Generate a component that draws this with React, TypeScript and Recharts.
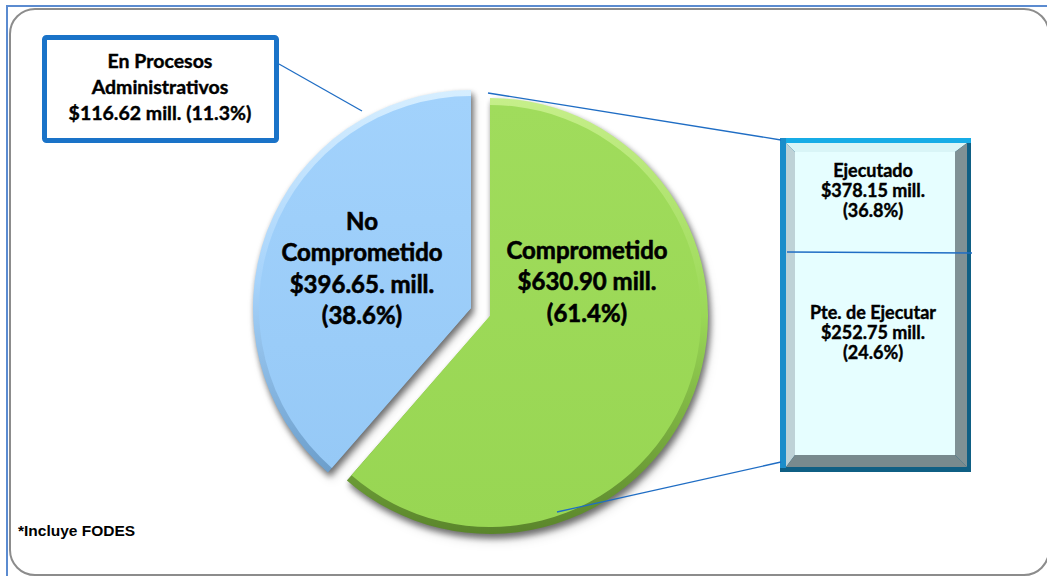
import React from 'react'
import { PieChart, Pie, Cell } from 'recharts'

// main split of the budget
const categories = ['No Comprometido', 'Comprometido']
const amounts = [396.65, 630.9]
const percents = [38.6, 61.4]
const titleLines = [['No', 'Comprometido'], ['Comprometido']]
const amountText = ['$396.65. mill.', '$630.90 mill.']

// breakdown callouts
const adminTitle = ['En Procesos', 'Administrativos']
const adminAmount = 116.62
const adminPercent = 11.3
const subCategories = ['Ejecutado', 'Pte. de Ejecutar']
const subAmounts = [378.15, 252.75]
const subPercents = [36.8, 24.6]

const pieData = categories.map((name, i) => ({ name, value: amounts[i] }))

const W = 1047
const H = 576
const R = 218
const BLUE_C = { x: 466, y: 303 }
const GREEN_C = { x: 485, y: 311 }
const LINE_COLOR = '#1F6DC4'
const FONT = 'Lato, "Open Sans", sans-serif'

// where each slice label block starts, relative to the slice centre
const LABEL_ANCHOR = [
  { dx: -109, dy: -88 },
  { dx: 97, dy: -67 }
]

const sliceLines = (i: number) => [
  ...titleLines[i],
  amountText[i],
  `(${percents[i].toFixed(1)}%)`
]

const heavy = { stroke: '#000', strokeWidth: 0.6, paintOrder: 'stroke' as const }

const renderLabel = (target: number) => (props: any) => {
  if (props.index !== target) return null
  const a = LABEL_ANCHOR[target]
  const x = props.cx + a.dx
  const y0 = props.cy + a.dy
  return (
    <text
      key={`lbl-${target}`}
      x={x}
      y={y0}
      textAnchor="middle"
      fontFamily={FONT}
      fontWeight={700}
      fontSize={24}
      fill="#000"
      {...heavy}
    >
      {sliceLines(target).map((t, j) => (
        <tspan key={j} x={x} y={y0 + j * 31.5} dominantBaseline="central">
          {t}
        </tspan>
      ))}
    </text>
  )
}

function Frame() {
  return (
    <svg width={W} height={H} style={{ position: 'absolute', left: 0, top: 0 }}>
      <defs>
        <linearGradient id="blueEdge" x1="0" y1="0" x2="0" y2="1">
          <stop offset="0%" stopColor="#D6EEFF" />
          <stop offset="50%" stopColor="#A6D3FB" />
          <stop offset="100%" stopColor="#6C9ECB" />
        </linearGradient>
        <linearGradient id="blueFace" x1="0" y1="0" x2="0" y2="1">
          <stop offset="0%" stopColor="#A2D2FC" />
          <stop offset="100%" stopColor="#96C9F6" />
        </linearGradient>
        <linearGradient id="greenEdge" x1="0" y1="0" x2="0" y2="1">
          <stop offset="0%" stopColor="#C6EF8A" />
          <stop offset="50%" stopColor="#9AD856" />
          <stop offset="100%" stopColor="#5A852B" />
        </linearGradient>
        <linearGradient id="greenFace" x1="0" y1="0" x2="0" y2="1">
          <stop offset="0%" stopColor="#A0DC5C" />
          <stop offset="100%" stopColor="#98D653" />
        </linearGradient>
      </defs>
      <rect x={0} y={0} width={W} height={H} fill="#fff" />
      <line x1={7} y1={6} x2={W} y2={6} stroke="#5B8BD0" strokeWidth={2} />
      <line x1={7} y1={5} x2={7} y2={H} stroke="#5B8BD0" strokeWidth={2} />
      <rect x={10} y={9} width={1039} height={566} rx={25} ry={25} fill="#fff" stroke="#8C8C8C" strokeWidth={2} />
      <text x={18} y={530} dominantBaseline="central" fontFamily='"Liberation Sans", Arial, sans-serif' fontWeight={700} fontSize={15.5} fill="#000">
        *Incluye FODES
      </text>
    </svg>
  )
}

function Callouts() {
  const boxX = 780
  const boxY = 138
  const boxW = 191
  const boxH = 334
  const x0 = 786, x1 = 967, y0 = 143, y1 = 467
  const fx0 = 795, fx1 = 955, fy0 = 152, fy1 = 455
  const cx = 873
  const subTexts = subCategories.map((c, i) => [
    c,
    `$${subAmounts[i].toFixed(2)} mill.`,
    `(${subPercents[i].toFixed(1)}%)`
  ])
  const subY = [170, 312]
  const adminLines = [...adminTitle, `$${adminAmount.toFixed(2)} mill. (${adminPercent.toFixed(1)}%)`]
  return (
    <svg width={W} height={H} style={{ position: 'absolute', left: 0, top: 0, pointerEvents: 'none' }}>
      {/* top-left box */}
      <rect x={44.5} y={37.5} width={232} height={103} rx={2} fill="#fff" stroke="#1A73C8" strokeWidth={5} />
      {adminLines.map((t, j) => (
        <text key={t} x={160} y={60 + j * 26} textAnchor="middle" dominantBaseline="central" fontFamily={FONT} fontWeight={700} fontSize={19.5} fill="#000" {...heavy} strokeWidth={0.4}>
          {t}
        </text>
      ))}
      <line x1={279} y1={64} x2={362} y2={111} stroke={LINE_COLOR} strokeWidth={1.3} />

      {/* right bevelled box */}
      <rect x={boxX} y={boxY} width={boxW} height={boxH} fill="#0F5F84" />
      <rect x={boxX} y={boxY} width={boxW} height={5} fill="#17ACE6" />
      <rect x={boxX} y={boxY} width={6} height={boxH - 4} fill="#1B8DCA" />
      <polygon points={`${x0},${y0} ${x1},${y0} ${fx1},${fy0} ${fx0},${fy0}`} fill="#D9F5F7" />
      <polygon points={`${x0},${y0} ${fx0},${fy0} ${fx0},${fy1} ${x0},${y1}`} fill="#BED2D7" />
      <polygon points={`${x1},${y0} ${x1},${y1} ${fx1},${fy1} ${fx1},${fy0}`} fill="#7F9195" />
      <polygon points={`${x0},${y1} ${x1},${y1} ${fx1},${fy1} ${fx0},${fy1}`} fill="#788A8E" />
      <rect x={fx0} y={fy0} width={fx1 - fx0} height={fy1 - fy0} fill="#E6FEFF" />
      {subTexts.map((lines, i) =>
        lines.map((t, j) => (
          <text key={t} x={cx} y={subY[i] + j * 20} textAnchor="middle" dominantBaseline="central" fontFamily={FONT} fontWeight={700} fontSize={18} fill="#000" {...heavy} strokeWidth={0.4}>
            {t}
          </text>
        ))
      )}
      <line x1={787} y1={252} x2={972} y2={253} stroke={LINE_COLOR} strokeWidth={1.5} />
      <line x1={488} y1={93} x2={781} y2={140} stroke={LINE_COLOR} strokeWidth={1.3} />
      <line x1={557} y1={512} x2={781} y2={462} stroke={LINE_COLOR} strokeWidth={1.3} />
    </svg>
  )
}

export default function App() {
  return (
    <div style={{ position: 'absolute', left: 0, top: 0, width: W, height: H, overflow: 'hidden', background: '#fff' }}>
      <style>{`.slice-shadow { filter: drop-shadow(2px 4px 3px rgba(0,0,0,0.35)); }`}</style>
      <Frame />
      <div style={{ position: 'absolute', left: 0, top: 0 }}>
        <PieChart width={W} height={H}>
          {/* blue slice: bevel rim + face */}
          <Pie
            data={pieData}
            dataKey="value"
            nameKey="name"
            cx={BLUE_C.x}
            cy={BLUE_C.y}
            outerRadius={R}
            startAngle={90}
            endAngle={450}
            stroke="none"
            className="slice-shadow"
            isAnimationActive={false}
          >
            <Cell fill="url(#blueEdge)" />
            <Cell fill="none" />
          </Pie>
          <Pie
            data={pieData}
            dataKey="value"
            nameKey="name"
            cx={BLUE_C.x}
            cy={BLUE_C.y}
            outerRadius={R - 6}
            startAngle={90}
            endAngle={450}
            stroke="none"
            labelLine={false}
            label={renderLabel(0)}
            isAnimationActive={false}
          >
            <Cell fill="url(#blueFace)" />
            <Cell fill="none" />
          </Pie>
          {/* green slice, pulled out */}
          <Pie
            data={pieData}
            dataKey="value"
            nameKey="name"
            cx={GREEN_C.x}
            cy={GREEN_C.y}
            outerRadius={R}
            startAngle={90}
            endAngle={450}
            stroke="none"
            className="slice-shadow"
            isAnimationActive={false}
          >
            <Cell fill="none" />
            <Cell fill="url(#greenEdge)" />
          </Pie>
          <Pie
            data={pieData}
            dataKey="value"
            nameKey="name"
            cx={GREEN_C.x}
            cy={GREEN_C.y}
            outerRadius={R - 7}
            startAngle={90}
            endAngle={450}
            stroke="none"
            labelLine={false}
            label={renderLabel(1)}
            isAnimationActive={false}
          >
            <Cell fill="none" />
            <Cell fill="url(#greenFace)" />
          </Pie>
        </PieChart>
      </div>
      <Callouts />
    </div>
  )
}
